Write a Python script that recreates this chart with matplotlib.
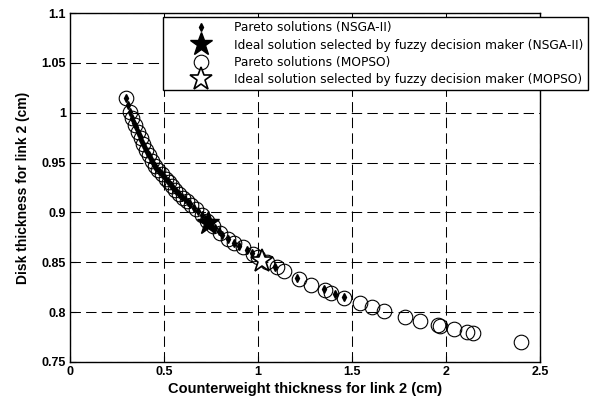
import matplotlib.pyplot as plt

# --------------------------------------------------
# Pareto fronts
# --------------------------------------------------
nsga_x = [0.30, 0.31, 0.32, 0.33, 0.34, 0.35, 0.36, 0.37, 0.38, 0.39,
          0.40, 0.41, 0.42, 0.43, 0.44, 0.45, 0.46, 0.475, 0.49, 0.505,
          0.52, 0.535, 0.55, 0.565, 0.58, 0.595, 0.61, 0.625, 0.64, 0.66,
          0.68, 0.70, 0.72, 0.75, 0.77, 0.79, 0.81, 0.84, 0.87, 0.90,
          0.94, 0.97, 1.00, 1.09, 1.21, 1.35, 1.41, 1.46]
nsga_y = [1.015, 1.008, 1.001, 0.995, 0.990, 0.986, 0.981, 0.977, 0.973, 0.969,
          0.965, 0.961, 0.958, 0.954, 0.950, 0.947, 0.945, 0.942, 0.939, 0.935,
          0.932, 0.928, 0.924, 0.921, 0.918, 0.915, 0.913, 0.910, 0.908, 0.904,
          0.901, 0.897, 0.893, 0.887, 0.884, 0.881, 0.877, 0.873, 0.869, 0.866,
          0.862, 0.859, 0.855, 0.845, 0.834, 0.823, 0.818, 0.815]

mopso_x = [0.30, 0.32, 0.33, 0.345, 0.36, 0.375, 0.39, 0.405, 0.42, 0.435,
           0.45, 0.47, 0.49, 0.51, 0.525, 0.54, 0.56, 0.58, 0.60, 0.62,
           0.645, 0.67, 0.70, 0.73, 0.76, 0.80, 0.84, 0.87, 0.92, 0.975,
           1.00, 1.05, 1.10, 1.14, 1.22, 1.28, 1.355, 1.39, 1.46, 1.54,
           1.605, 1.67, 1.78, 1.86, 1.96, 1.97, 2.04, 2.11, 2.145, 2.40]
mopso_y = [1.015, 1.001, 0.995, 0.988, 0.981, 0.975, 0.969, 0.963, 0.958, 0.952,
           0.947, 0.943, 0.939, 0.934, 0.931, 0.927, 0.922, 0.918, 0.914, 0.911,
           0.907, 0.903, 0.897, 0.891, 0.886, 0.879, 0.873, 0.869, 0.865, 0.858,
           0.855, 0.850, 0.845, 0.841, 0.833, 0.827, 0.822, 0.819, 0.814, 0.809,
           0.805, 0.801, 0.795, 0.791, 0.787, 0.786, 0.783, 0.780, 0.779, 0.770]

ideal_nsga = (0.735, 0.889)
ideal_mopso = (1.02, 0.851)

x_ticks = [0, 0.5, 1, 1.5, 2, 2.5]
x_labels = ["0", "0.5", "1", "1.5", "2", "2.5"]
y_ticks = [0.75, 0.8, 0.85, 0.9, 0.95, 1, 1.05, 1.1]
y_labels = ["0.75", "0.8", "0.85", "0.9", "0.95", "1", "1.05", "1.1"]

# --------------------------------------------------
# Plot
# --------------------------------------------------
fig = plt.figure(figsize=(5.93, 4.09), dpi=100)
ax = fig.add_axes([70 / 593, 1 - 362 / 409, 470 / 593, 349 / 409])

h_mopso, = ax.plot(mopso_x, mopso_y, "o", ms=10.5, mfc="none", mec="black",
                   mew=0.8, linestyle="none", zorder=3)
h_nsga, = ax.plot(nsga_x, nsga_y, "d", ms=4, color="black",
                  linestyle="none", zorder=4)
h_insga, = ax.plot([ideal_nsga[0]], [ideal_nsga[1]], "*", ms=17, color="black",
                   linestyle="none", zorder=5)
h_imopso, = ax.plot([ideal_mopso[0]], [ideal_mopso[1]], "*", ms=17, mfc="white",
                    mec="black", mew=1.2, linestyle="none", zorder=5)

ax.set_xlim(0, 2.5)
ax.set_ylim(0.75, 1.1)
ax.set_xticks(x_ticks)
ax.set_xticklabels(x_labels, fontsize=9, fontweight="bold", family="Liberation Sans")
ax.set_yticks(y_ticks)
ax.set_yticklabels(y_labels, fontsize=9, fontweight="bold", family="Liberation Sans")
ax.tick_params(direction="in", length=4, color="black", pad=3)

ax.grid(True, color="black", linestyle=(0, (10, 5)), linewidth=0.75)
for s in ax.spines.values():
    s.set_linewidth(1.0)
    s.set_color("black")

ax.set_xlabel("Counterweight thickness for link 2 (cm)", fontsize=10.5,
              fontweight="bold", family="Liberation Sans", labelpad=3)
ax.set_ylabel("Disk thickness for link 2 (cm)", fontsize=10,
              fontweight="bold", family="Liberation Sans", labelpad=8)

leg = fig.legend(
    [h_nsga, h_insga, h_mopso, h_imopso],
    ["Pareto solutions (NSGA-II)",
     "Ideal solution selected by fuzzy decision maker (NSGA-II)",
     "Pareto solutions (MOPSO)",
     "Ideal solution selected by fuzzy decision maker (MOPSO)"],
    loc="upper right", bbox_to_anchor=(588 / 593, 1 - 17 / 409),
    prop={"family": "DejaVu Sans", "size": 8.8},
    frameon=True, fancybox=False, edgecolor="black", framealpha=1,
    borderpad=0.35, labelspacing=0.35, handlelength=5.4, handletextpad=0.05,
    borderaxespad=0, numpoints=1,
)
leg.get_frame().set_linewidth(1.0)

fig.savefig("out.png", dpi=100)
